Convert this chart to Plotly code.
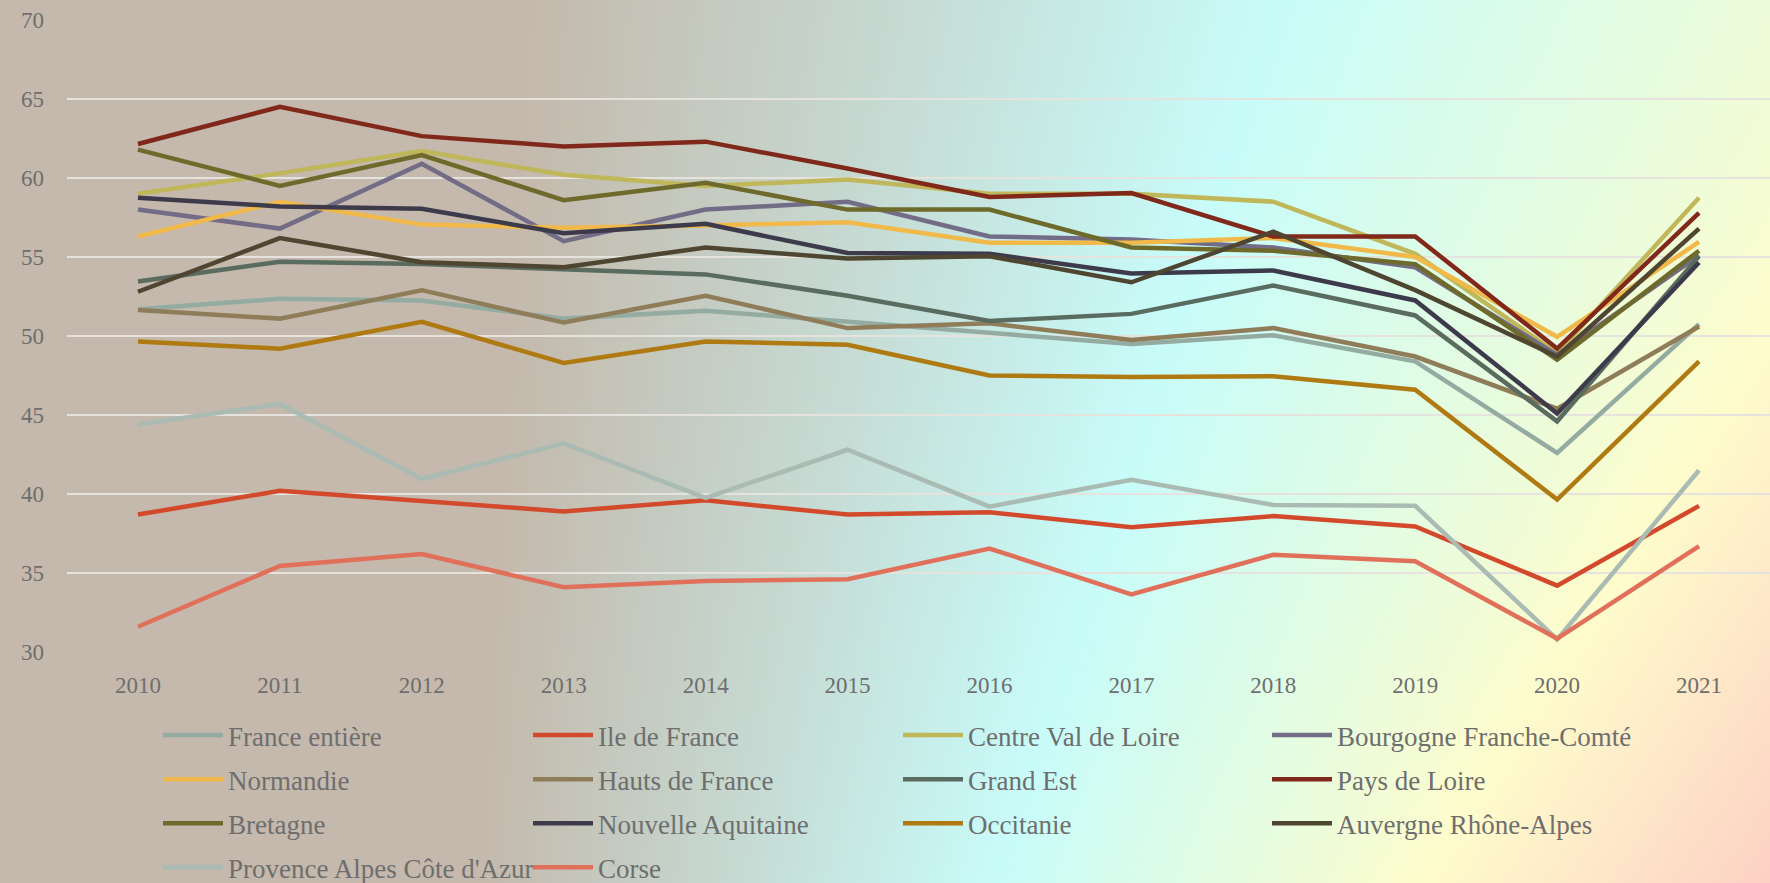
import base64, struct, zlib
import plotly.graph_objects as go

years = ["2010", "2011", "2012", "2013", "2014", "2015", "2016", "2017", "2018", "2019", "2020", "2021"]

france_entiere = [51.7, 52.35, 52.25, 51.1, 51.6, 50.9, 50.15, 49.5, 50.05, 48.4, 42.6, 50.75]
ile_de_france = [38.7, 40.2, 39.55, 38.9, 39.6, 38.7, 38.85, 37.9, 38.6, 37.95, 34.2, 39.25]
centre_val_de_loire = [59.0, 60.3, 61.7, 60.2, 59.5, 59.9, 59.0, 59.0, 58.5, 55.2, 48.9, 58.75]
bourgogne_fc = [58.0, 56.8, 60.9, 56.0, 58.0, 58.5, 56.3, 56.1, 55.6, 54.35, 48.8, 55.1]
normandie = [56.3, 58.5, 57.05, 56.85, 57.0, 57.2, 55.9, 55.9, 56.2, 55.0, 49.95, 55.95]
hauts_de_france = [51.65, 51.1, 52.9, 50.85, 52.55, 50.5, 50.8, 49.75, 50.5, 48.7, 45.4, 50.6]
grand_est = [53.45, 54.7, 54.55, 54.25, 53.9, 52.55, 50.95, 51.4, 53.2, 51.3, 44.6, 55.05]
pays_de_loire = [62.15, 64.5, 62.65, 62.0, 62.3, 60.6, 58.8, 59.05, 56.3, 56.3, 49.2, 57.8]
bretagne = [61.8, 59.5, 61.45, 58.6, 59.7, 58.0, 58.0, 55.6, 55.4, 54.55, 48.5, 55.4]
nouvelle_aquitaine = [58.75, 58.2, 58.05, 56.5, 57.1, 55.25, 55.2, 53.95, 54.15, 52.25, 45.1, 54.65]
occitanie = [49.65, 49.2, 50.9, 48.3, 49.65, 49.45, 47.5, 47.4, 47.45, 46.6, 39.65, 48.4]
auvergne_ra = [52.8, 56.2, 54.67, 54.35, 55.6, 54.9, 55.05, 53.4, 56.6, 52.9, 48.7, 56.8]
paca = [44.4, 45.7, 40.95, 43.2, 39.75, 42.8, 39.2, 40.9, 39.3, 39.25, 30.8, 41.5]
corse = [31.6, 35.45, 36.2, 34.1, 34.5, 34.6, 36.55, 33.65, 36.15, 35.75, 30.85, 36.7]

series = [
    ("France entière", france_entiere, "#93aba1"),
    ("Ile de France", ile_de_france, "#d2492b"),
    ("Centre Val de Loire", centre_val_de_loire, "#bfb75a"),
    ("Bourgogne Franche-Comté", bourgogne_fc, "#736c87"),
    ("Normandie", normandie, "#f0b94a"),
    ("Hauts de France", hauts_de_france, "#8f7c58"),
    ("Grand Est", grand_est, "#5a6b60"),
    ("Pays de Loire", pays_de_loire, "#80291b"),
    ("Bretagne", bretagne, "#6e6a2b"),
    ("Nouvelle Aquitaine", nouvelle_aquitaine, "#3d3b4b"),
    ("Occitanie", occitanie, "#b07a12"),
    ("Auvergne Rhône-Alpes", auvergne_ra, "#4e4631"),
    ("Provence Alpes Côte d'Azur", paca, "#aabbb4"),
    ("Corse", corse, "#e0705a"),
]

# ---- background gradient image (pure python PNG) ----
W, H = 240, 120
grad_cols = [(196, 185, 172), (200, 252, 250), (254, 252, 204), (253, 208, 196)]
top_pos = [0.30, 0.72, 1.12, 1.35]
bot_pos = [0.27, 0.56, 0.80, 1.00]

def grad(s, pos):
    if s <= pos[0]:
        return grad_cols[0]
    for k in range(len(pos) - 1):
        a, b = pos[k], pos[k + 1]
        if s <= b:
            f = (s - a) / (b - a)
            ca, cb = grad_cols[k], grad_cols[k + 1]
            return tuple(int(round(ca[i] + (cb[i] - ca[i]) * f)) for i in range(3))
    return grad_cols[-1]

rows = []
for j in range(H):
    v = (j + 0.5) / H
    pos = [t * (1 - v) + b * v for t, b in zip(top_pos, bot_pos)]
    row = bytearray(b"\x00")
    for i in range(W):
        row.extend(grad((i + 0.5) / W, pos))
    rows.append(bytes(row))
raw = b"".join(rows)

def chunk(tag, data):
    c = struct.pack(">I", len(data)) + tag + data
    return c + struct.pack(">I", zlib.crc32(tag + data) & 0xffffffff)

png = b"\x89PNG\r\n\x1a\n" + chunk(b"IHDR", struct.pack(">IIBBBBB", W, H, 8, 2, 0, 0, 0)) \
      + chunk(b"IDAT", zlib.compress(raw, 9)) + chunk(b"IEND", b"")
bg_uri = "data:image/png;base64," + base64.b64encode(png).decode()

FIG_W, FIG_H = 1770, 883
ML, MR, MT, MB = 67, 0, 20, 231
PW = FIG_W - ML - MR
PH = FIG_H - MT - MB

legend_ids = ["legend", "legend2", "legend3", "legend4"]

fig = go.Figure()
for k, (name, vals, col) in enumerate(series):
    fig.add_trace(go.Scatter(x=years, y=vals, name=name, mode="lines",
                             line=dict(color=col, width=4.5),
                             legend=legend_ids[k % 4], legendgroup=name))

font_family = "Liberation Serif, DejaVu Serif, serif"
leg_font = dict(size=27, color="#6e6e6e", family=font_family)
ITEMW = 60
col_px = [228, 598, 968, 1337]
leg_top_px = 711

def leg(textx):
    xpx = textx - (ITEMW + 10)
    return dict(orientation="v", x=(xpx - ML) / PW, y=-(leg_top_px - (MT + PH)) / PH,
                xanchor="left", yanchor="top", bgcolor="rgba(0,0,0,0)",
                borderwidth=0, font=leg_font, tracegroupgap=6, traceorder="grouped",
                itemwidth=ITEMW)

fig.update_layout(
    width=FIG_W, height=FIG_H,
    margin=dict(l=ML, r=MR, t=MT, b=MB, autoexpand=False),
    paper_bgcolor="#c4b9ac",
    plot_bgcolor="rgba(0,0,0,0)",
    font=dict(family=font_family, color="#6e6e6e", size=23),
    showlegend=True,
    legend=leg(col_px[0]),
    legend2=leg(col_px[1]),
    legend3=leg(col_px[2]),
    legend4=leg(col_px[3]),
    images=[dict(source=bg_uri, xref="paper", yref="paper",
                 x=-(ML + 5) / PW, y=1 + (MT + 5) / PH, sizex=(FIG_W + 10) / PW,
                 sizey=(FIG_H + 10) / PH,
                 xanchor="left", yanchor="top", sizing="stretch", layer="below")],
    hovermode=False,
)
fig.update_xaxes(type="category", range=[-0.5, 11.5], showgrid=False, showline=False,
                 zeroline=False, ticks="", ticklabelstandoff=17, tickfont=dict(size=23))
fig.update_yaxes(range=[30, 70], dtick=5, tick0=30, showgrid=True, gridcolor="#e6e3df",
                 gridwidth=2, showline=False, zeroline=False, ticks="",
                 ticklabelstandoff=22, tickfont=dict(size=23))

fig.write_html("out.html",
               config={"displayModeBar": False, "staticPlot": True},
               post_script="document.body.style.margin='0';"
                           "document.body.style.overflow='hidden';"
                           "document.body.style.background='#c4b9ac';")
